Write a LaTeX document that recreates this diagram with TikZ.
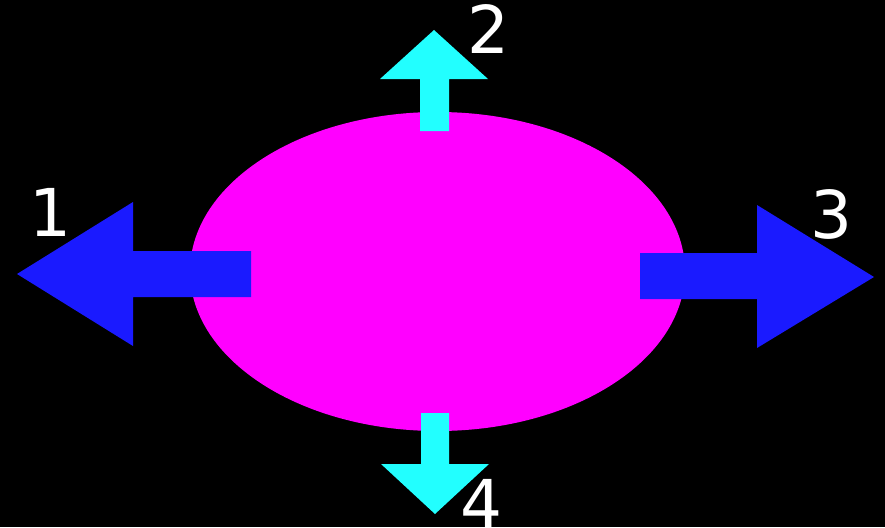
\documentclass[tikz,border=0pt]{standalone}
\usepackage{fontspec}
\setmainfont{DejaVu Sans}
\definecolor{arrowblue}{RGB}{26,26,255}
\definecolor{arrowcyan}{RGB}{34,255,255}
\definecolor{blobpink}{RGB}{255,0,255}
\tikzset{
hor/.style={fill=arrowblue},
ver/.style={fill=arrowcyan},
num/.style={text=white,inner sep=0pt,font=\fontsize{66}{66}\selectfont}
}
\begin{document}
\begin{tikzpicture}[x=1pt,y=-1pt]
\fill[black](0,0)rectangle(885,527);
\useasboundingbox(0,0)rectangle(885,527);
\fill[blobpink](437.5,271.5)ellipse(247.5 and 159.5);
\node[coordinate](c)at(437.5,271.5){};
% left and right
\fill[hor](251,251)--(133,251)--(133,202)--(17,274)--(133,346)--(133,297)--(251,297)--cycle;
\fill[hor](640,253)--(757,253)--(757,205)--(874,277)--(757,348)--(757,299)--(640,299)--cycle;
% up and down
\fill[ver](420,131)--(420,79)--(380,79)--(434,30)--(488,79)--(449,79)--(449,131)--cycle;
\fill[ver](421,413)--(421,464)--(381,464)--(435,514)--(489,464)--(449,464)--(449,413)--cycle;
\node[num](n1)at(50,212){1};
\node[num](n2)at(488,29){2};
\node[num](n3)at(831,214){3};
\node[num](n4)at(481,503){4};
\end{tikzpicture}
\end{document}
